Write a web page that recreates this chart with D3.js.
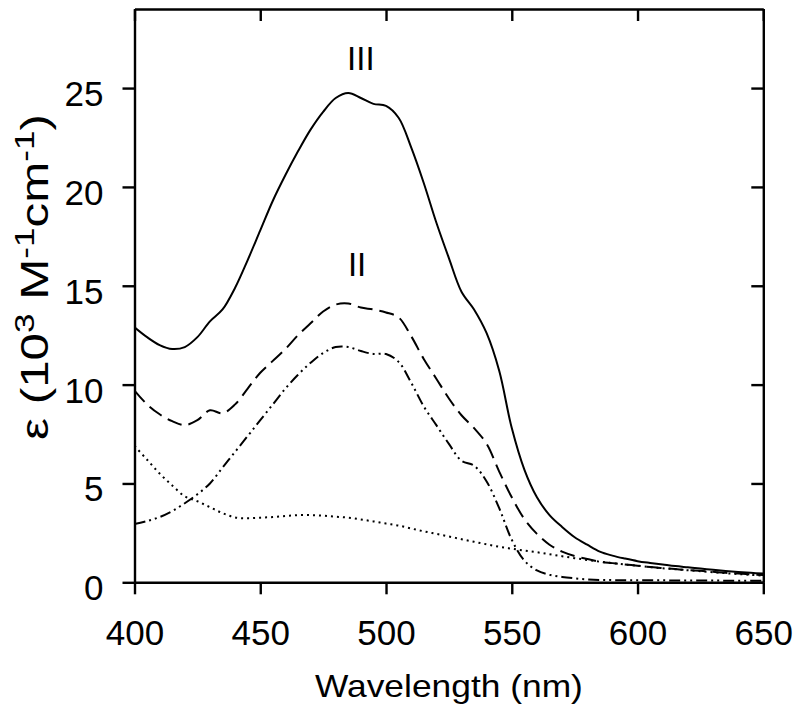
<!DOCTYPE html>
<html>
<head>
<meta charset="utf-8">
<script src="https://cdn.jsdelivr.net/npm/d3@7"></script>
<style>
  body { margin: 0; background: #fff; }
  svg { display: block; }
  text { font-family: "Liberation Sans", Arial, sans-serif; fill: #000; }
</style>
</head>
<body>
<svg id="chart" width="800" height="714"></svg>
<script>
// ---- data ----
const wavelengths = d3.range(400, 651, 5);
const seriesIII = [12.9,12.4,12.0,11.8,11.9,12.4,13.2,13.8,14.9,16.3,17.8,19.3,20.6,21.8,22.9,23.8,24.5,24.75,24.5,24.2,24.1,23.5,22.0,20.2,18.2,16.4,14.7,13.8,12.6,10.7,7.8,5.7,4.3,3.4,2.8,2.28,1.9,1.55,1.35,1.2,1.07,0.98,0.9,0.82,0.76,0.70,0.63,0.57,0.52,0.48,0.44];
const seriesII = [9.7,9.0,8.5,8.15,7.95,8.2,8.7,8.55,9.0,9.8,10.6,11.2,11.8,12.5,13.1,13.7,14.05,14.1,13.9,13.8,13.65,13.4,12.45,11.3,10.3,9.3,8.45,7.8,7.0,5.6,4.3,3.2,2.45,1.9,1.55,1.33,1.18,1.04,0.97,0.9,0.84,0.77,0.72,0.67,0.62,0.58,0.53,0.48,0.44,0.40,0.37];
const seriesI = [2.95,3.1,3.3,3.6,4.0,4.45,5.0,5.8,6.6,7.4,8.2,9.0,9.8,10.5,11.1,11.6,11.9,11.9,11.7,11.55,11.55,11.15,10.1,8.9,7.95,7.0,6.15,5.9,5.1,3.75,2.15,1.1,0.6,0.38,0.27,0.2,0.15,0.12,0.11,0.1,0.1,0.1,0.1,0.09,0.09,0.09,0.09,0.08,0.08,0.08,0.08];
const seriesDotted = [6.9,6.2,5.5,4.9,4.35,4.1,3.8,3.5,3.28,3.24,3.27,3.3,3.35,3.4,3.4,3.37,3.32,3.27,3.18,3.08,2.97,2.87,2.72,2.58,2.45,2.32,2.18,2.05,1.92,1.8,1.7,1.6,1.52,1.42,1.32,1.22,1.13,1.04,0.97,0.9,0.84,0.77,0.71,0.66,0.61,0.56,0.51,0.46,0.42,0.38,0.34];
const xTicks = [400, 450, 500, 550, 600, 650];
const yTicks = [0, 5, 10, 15, 20, 25];
const annotations = [ { text: "III", x: 490, y: 25.9 }, { text: "II", x: 488.5, y: 15.5 } ];

// ---- layout ----
const svg = d3.select("#chart");
const pLeft = 134.5, pRight = 763.3, pTop = 9, pBottom = 582.3;
const x = d3.scaleLinear().domain([400, 650]).range([pLeft, pRight]);
const y = d3.scaleLinear().domain([0, 29]).range([pBottom, pTop]);

function styleAxis(g) {
  g.selectAll("path").attr("stroke", "#000").attr("stroke-width", 2.4);
  g.selectAll("line").attr("stroke", "#000").attr("stroke-width", 2.4);
}

// bottom axis
svg.append("g").attr("transform", `translate(0,${pBottom})`)
  .call(d3.axisBottom(x).tickValues(xTicks).tickSize(12).tickSizeOuter(0).tickPadding(26))
  .call(styleAxis)
  .call(g => g.selectAll("text").attr("font-size", 35).attr("font-family", "Liberation Sans, Arial, sans-serif"));
// left axis
svg.append("g").attr("transform", `translate(${pLeft},0)`)
  .call(d3.axisLeft(y).tickValues(yTicks).tickSize(12).tickSizeOuter(0).tickPadding(19))
  .call(styleAxis)
  .call(g => g.selectAll("text").attr("font-size", 35).attr("dy", "0.5em").attr("font-family", "Liberation Sans, Arial, sans-serif"));
// top axis (inward ticks)
svg.append("g").attr("transform", `translate(0,${pTop})`)
  .call(d3.axisTop(x).tickValues(xTicks).tickSize(-12).tickSizeOuter(0).tickFormat(""))
  .call(styleAxis);
// right axis (inward ticks)
svg.append("g").attr("transform", `translate(${pRight},0)`)
  .call(d3.axisRight(y).tickValues(yTicks).tickSize(-12).tickSizeOuter(0).tickFormat(""))
  .call(styleAxis);

// clip
svg.append("clipPath").attr("id", "clip").append("rect")
  .attr("x", pLeft).attr("y", pTop).attr("width", pRight - pLeft).attr("height", pBottom - pTop);

const line = d3.line().x(d => x(d[0])).y(d => y(d[1])).curve(d3.curveCatmullRom.alpha(0.5));
const series = [
  { values: seriesIII, dash: null },
  { values: seriesII, dash: "15,7" },
  { values: seriesI, dash: "11,4,2,4,2,4" },
  { values: seriesDotted, dash: "2,4" }
];
const plot = svg.append("g").attr("clip-path", "url(#clip)");
series.forEach(s => {
  plot.append("path")
    .datum(wavelengths.map((w, i) => [w, s.values[i]]))
    .attr("d", line)
    .attr("fill", "none")
    .attr("stroke", "#000")
    .attr("stroke-width", 2)
    .attr("stroke-dasharray", s.dash);
});

// annotations
annotations.forEach(a => {
  svg.append("text").attr("x", x(a.x)).attr("y", y(a.y))
    .attr("text-anchor", "middle").attr("font-size", 33).text(a.text);
});

// x axis title, stretched to the reference's width
const xt = svg.append("text").attr("text-anchor", "middle").attr("font-size", 32).text("Wavelength (nm)");
const xtw = xt.node().getBBox().width;
xt.attr("transform", `translate(${(pLeft + pRight) / 2},697) scale(${268 / xtw},1)`);

// y axis title, stretched along its length
const yl = svg.append("text").attr("text-anchor", "start").attr("font-size", 38);
yl.append("tspan").text("ε (10");
yl.append("tspan").attr("font-size", 27).attr("dy", -14).text("3");
yl.append("tspan").attr("dy", 14).text(" M");
yl.append("tspan").attr("font-size", 27).attr("dy", -14).text("-1");
yl.append("tspan").attr("dy", 14).text("cm");
yl.append("tspan").attr("font-size", 27).attr("dy", -14).text("-1");
yl.append("tspan").attr("dy", 14).text(")");
const ylw = yl.node().getBBox().width;
yl.attr("transform", `translate(48,440) rotate(-90) scale(${326 / ylw},1)`);
</script>
</body>
</html>
